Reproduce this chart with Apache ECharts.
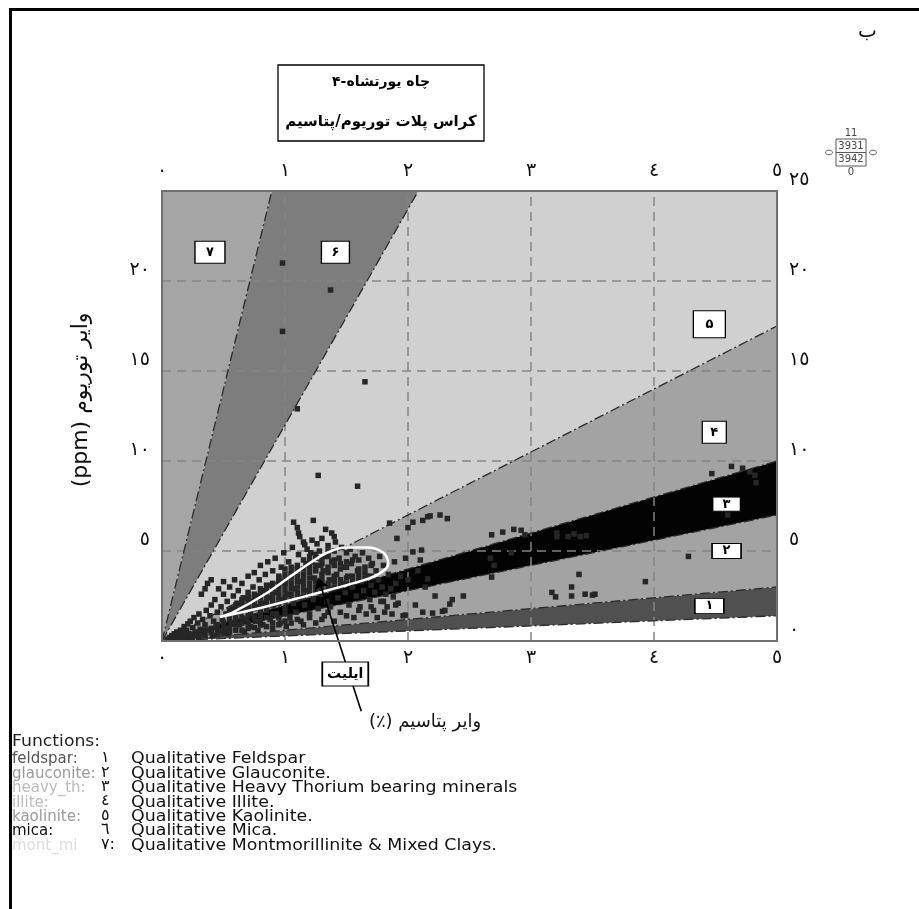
<!DOCTYPE html>
<html><head><meta charset="utf-8">
<script src="https://cdn.jsdelivr.net/npm/echarts@6/dist/echarts.min.js"></script>
<style>html,body{margin:0;padding:0;background:#fff}#c{width:919px;height:909px}</style>
</head><body><div id="c"></div>
<script>
// ---------- data ----------
const xTickLabels = ['٠','١','٢','٣','٤','٥'];
const yTickLabels = {0:'٠',5:'٥',10:'١٠',15:'١٥',20:'٢٠',25:'٢٥'};
const zoneNames = ['feldspar','glauconite','heavy_th','illite','kaolinite','mica','mont_mi'];
const zoneSlopes = [0.28, 0.6, 1.4, 2.0, 3.5, 12, 28];   // lower boundary Th/K of each zone
const zoneLabels = ['۱','۲','۳','۴','۵','۶','۷'];
const zoneLabelPos = [[4.45,1.94],[4.59,5.0],[4.59,7.6],[4.49,11.6],[4.45,17.6],[1.41,21.6],[0.39,21.6]];
const gridK = [1,2,3,4];
const gridTh = [5,10,15,20];

const cloudLow = [[0.04,0.1],[0.06,0.2],[0.08,0.15],[0.08,0.3],[0.1,0.1],[0.1,0.25],[0.1,0.4],[0.12,0.5],[0.13,0.2],[0.14,0.35],[0.15,0.6],[0.16,0.1],[0.17,0.45],[0.18,0.8],[0.19,0.25],[0.2,0.6],[0.21,0.95],[0.22,0.4],[0.23,1.1],[0.24,0.15],[0.25,0.75],[0.26,1.3],[0.27,0.5],[0.28,0.3],[0.29,1.0],[0.3,1.5],[0.31,0.65],[0.32,2.6],[0.33,1.2],[0.34,0.4],[0.35,2.9],[0.35,0.9],[0.36,1.7],[0.37,3.2],[0.38,0.6],[0.39,1.4],[0.4,2.0],[0.4,3.4],[0.41,0.3],[0.42,1.1],[0.43,2.3],[0.44,0.8],[0.45,1.6],[0.46,2.9],[0.47,0.5],[0.48,1.9],[0.49,1.2],[0.5,2.6],[0.5,3.3],[0.51,0.7],[0.52,1.5],[0.53,2.2],[0.54,0.4],[0.55,3.0],[0.56,1.0],[0.57,1.8],[0.58,2.5],[0.59,3.4],[0.6,0.6],[0.6,1.3],[0.61,2.1],[0.62,2.8],[0.63,0.9],[0.64,1.6],[0.65,3.2],[0.66,2.4],[0.67,0.5],[0.68,1.9],[0.69,1.2],[0.7,2.7],[0.7,3.6]];
const cloudMid = [[0.72,0.8],[0.72,1.6],[0.73,2.2],[0.74,3.0],[0.75,3.8],[0.76,1.1],[0.77,2.5],[0.78,0.6],[0.78,1.9],[0.79,3.4],[0.8,4.2],[0.8,1.4],[0.81,2.8],[0.82,0.9],[0.83,2.1],[0.84,3.7],[0.85,1.7],[0.86,4.4],[0.87,2.4],[0.88,1.2],[0.89,3.1],[0.9,0.7],[0.9,3.9],[0.91,2.0],[0.92,4.6],[0.93,1.5],[0.94,2.7],[0.95,3.5],[0.96,1.0],[0.97,4.1],[0.98,2.3],[0.99,4.9],[1.0,1.8],[1.0,3.2],[1.01,0.8],[1.02,2.6],[1.03,4.4],[1.04,1.3],[1.05,3.7],[1.06,5.2],[1.07,2.1],[1.07,6.6],[1.08,2.9],[1.09,1.6],[1.1,4.0],[1.1,6.3],[1.11,6.0],[1.11,4.8],[1.12,2.4],[1.12,5.8],[1.13,1.1],[1.14,3.3],[1.15,5.5],[1.16,5.35],[1.16,2.0],[1.17,4.3],[1.18,5.1],[1.19,2.8],[1.2,1.5],[1.2,3.8],[1.21,4.9],[1.22,5.6],[1.23,6.7],[1.23,2.3],[1.24,3.5],[1.25,4.6],[1.26,5.4],[1.27,1.8],[1.27,3.0],[1.28,5.0],[1.29,4.2],[1.3,2.6],[1.3,5.7]];
const cloudHigh = [[1.31,3.9],[1.32,1.4],[1.33,6.2],[1.33,4.7],[1.34,2.2],[1.35,5.3],[1.36,3.4],[1.37,1.9],[1.38,6.0],[1.38,4.4],[1.39,2.9],[1.4,5.8],[1.4,5.0],[1.41,5.5],[1.42,3.7],[1.43,2.4],[1.44,4.6],[1.45,1.6],[1.46,5.2],[1.47,3.2],[1.48,4.1],[1.49,2.7],[1.5,4.9],[1.51,3.6],[1.52,2.0],[1.53,5.1],[1.54,4.3],[1.55,3.0],[1.56,1.3],[1.57,4.7],[1.58,2.5],[1.59,3.9],[1.6,4.5],[1.61,1.9],[1.62,3.3],[1.63,4.9],[1.64,2.8],[1.65,4.1],[1.66,1.5],[1.67,3.6],[1.68,4.6],[1.69,2.3],[1.7,3.1],[1.71,4.3],[1.72,1.7],[1.73,2.7],[1.74,3.9],[1.75,1.3],[1.76,3.4],[1.77,4.7],[1.78,2.2],[1.79,3.0],[1.8,4.2],[1.81,1.6],[1.82,2.6],[1.83,1.9],[1.84,3.7],[1.85,6.55],[1.86,2.9],[1.87,1.5],[1.88,2.45],[1.89,4.4],[1.9,3.2],[1.91,5.7],[1.92,2.1],[1.94,3.6],[1.96,1.4],[1.98,4.6],[1.98,1.44],[2.0,3.4],[2.0,6.3]];
const cloudCore = [[0.55,1.5],[0.55,1.7],[0.6,1.6],[0.6,1.8],[0.6,2.0],[0.65,1.7],[0.65,1.9],[0.65,2.1],[0.65,2.3],[0.7,1.75],[0.7,1.95],[0.7,2.2],[0.7,2.4],[0.75,1.8],[0.75,2.0],[0.75,2.3],[0.75,2.6],[0.8,1.9],[0.8,2.1],[0.8,2.4],[0.8,2.6],[0.8,2.9],[0.85,1.95],[0.85,2.2],[0.85,2.5],[0.85,2.8],[0.85,3.1],[0.9,2.0],[0.9,2.3],[0.9,2.6],[0.9,2.9],[0.9,3.2],[0.95,2.1],[0.95,2.4],[0.95,2.7],[0.95,3.0],[0.95,3.3],[0.95,3.6],[1.0,2.2],[1.0,2.5],[1.0,2.8],[1.0,3.1],[1.0,3.4],[1.0,3.7],[1.0,4.0],[1.05,2.3],[1.05,2.6],[1.05,2.9],[1.05,3.2],[1.05,3.5],[1.05,3.8],[1.05,4.1],[1.1,2.4],[1.1,2.7],[1.1,3.0],[1.1,3.3],[1.1,3.6],[1.1,3.9],[1.1,4.2],[1.15,2.5],[1.15,2.8],[1.15,3.1],[1.15,3.4],[1.15,3.7],[1.15,4.0],[1.15,4.5],[1.2,2.6],[1.2,2.9],[1.2,3.2],[1.2,3.5],[1.2,4.1],[1.2,4.4],[1.2,4.7],[1.25,2.7],[1.25,3.0],[1.25,3.3],[1.25,3.9],[1.25,4.2],[1.25,4.8],[1.3,2.8],[1.3,3.1],[1.3,3.4],[1.3,3.7],[1.3,4.3],[1.3,4.6],[1.35,2.9],[1.35,3.2],[1.35,3.8],[1.35,4.1],[1.35,4.7],[1.35,5.0],[1.4,3.0],[1.4,3.3],[1.4,3.6],[1.4,4.2],[1.4,4.5],[1.45,3.1],[1.45,3.4],[1.45,4.0],[1.45,4.3],[1.5,3.2],[1.5,3.5],[1.5,4.1],[1.5,4.4],[1.55,3.3],[1.55,3.6],[1.55,4.5],[1.6,3.4],[1.6,3.7],[1.6,4.0],[1.65,3.5],[1.65,3.8],[1.7,3.6],[1.7,4.2]];
const cloudBase = [[0.2,0.15],[0.25,0.3],[0.3,0.2],[0.3,0.45],[0.35,0.3],[0.35,0.6],[0.4,0.45],[0.4,0.7],[0.45,0.35],[0.45,0.6],[0.45,0.9],[0.5,0.45],[0.5,0.8],[0.5,1.05],[0.55,0.5],[0.55,0.75],[0.55,1.2],[0.6,0.9],[0.6,1.1],[0.65,0.6],[0.65,1.0],[0.65,1.3],[0.7,0.7],[0.7,1.0],[0.7,1.4],[0.75,0.75],[0.75,1.3],[0.8,0.9],[0.8,1.1],[0.8,1.6],[0.85,0.8],[0.85,1.3],[0.9,1.0],[0.9,1.5],[0.95,0.9],[0.95,1.3],[1.0,1.1],[1.0,1.5],[1.05,1.0],[1.1,1.2],[1.15,0.9],[1.2,1.3],[1.25,1.0],[1.3,1.2],[1.35,1.6],[1.4,1.1],[1.5,1.4],[1.6,1.7],[1.7,1.9],[1.8,2.2],[1.9,2.0]];
const scatterRight = [[2.04,6.6],[2.04,4.95],[2.06,2.0],[2.08,3.9],[2.1,4.5],[2.11,5.05],[2.12,6.7],[2.12,1.6],[2.14,3.0],[2.16,6.9],[2.16,3.45],[2.18,6.95],[2.2,1.55],[2.22,2.5],[2.26,7.0],[2.28,1.65],[2.3,1.7],[2.32,6.8],[2.34,2.05],[2.36,2.3],[2.45,2.5],[2.67,4.6],[2.68,5.9],[2.68,3.55],[2.7,4.2],[2.77,6.05],[2.84,4.9],[2.86,6.2],[2.92,6.15],[2.95,5.9],[3.17,2.7],[3.2,2.45],[3.21,6.0],[3.21,5.8],[3.3,5.8],[3.33,3.0],[3.33,2.5],[3.35,5.95],[3.39,3.7],[3.4,5.8],[3.44,2.6],[3.45,5.85],[3.52,2.6],[3.5,2.55],[3.93,3.3],[4.28,4.7],[4.47,9.3],[4.63,9.7],[4.72,9.6],[4.78,9.4],[4.82,9.2],[4.83,8.8],[4.6,7.0]];
const outliers = [[0.98,21.0],[1.37,19.5],[0.98,17.2],[1.65,14.4],[1.1,12.9],[1.27,9.2],[1.59,8.6]];

const illiteEnvelope = [[0.47,1.33],[0.8,1.83],[1.2,2.55],[1.55,3.2],[1.75,3.67],[1.84,4.3],[1.8,4.9],[1.67,5.2],[1.5,5.2],[1.34,4.9],[1.12,3.95],[0.85,2.65],[0.58,1.6],[0.47,1.33]];
const illiteArrow = [[1.62,-3.9],[1.27,3.5]];
const illiteLabel = 'ایلیت';
const illiteLabelPos = [1.49,-1.83];

const RLE = '\u202B', PDF = '\u202C';
const titleLine1 = 'چاه یورتشاه-۴';
const titleLine2 = 'کراس پلات توریوم/پتاسیم';
const xName = 'وایر پتاسیم (٪)';
const yName = 'وایر توریوم (ppm)';
const legendHead = 'Functions:';
const legendKeys = ['feldspar:','glauconite:','heavy_th:','illite:','kaolinite:','mica:','mont_mi'];
const legendNums = ['١','٢','٣','٤','٥','٦','٧:'];
const legendDesc = ['Qualitative Feldspar','Qualitative Glauconite.','Qualitative Heavy Thorium bearing minerals','Qualitative Illite.','Qualitative Kaolinite.','Qualitative Mica.','Qualitative Montmorillinite & Mixed Clays.'];

// ---------- styles ----------
const zoneColors = ['#505050','#a3a3a3','#030303','#a3a3a3','#d0d0d0','#7d7d7d','#a5a5a5'];
const zoneBoxSizes = [[29,15],[29,15],[28,14],[24,22],[32,27],[28,22],[30,22]];
const legendKeyColors = ['#555','#999','#bbb','#bbb','#999','#111','#ddd'];
const AR = 'DejaVu Sans';
const rtl = s => RLE + s + PDF;

const XMAX = 5, YMAX = 25;
function edge(s){ if(!isFinite(s)) return [0,YMAX]; return s*XMAX<=YMAX ? [XMAX,XMAX*s] : [YMAX/s,YMAX]; }
function zonePoly(i){
  const a = zoneSlopes[i], b = i+1<zoneSlopes.length ? zoneSlopes[i+1] : Infinity;
  const pa = edge(a), pb = edge(b);
  const pts = [[0,0], pa];
  if (pa[0]===XMAX && pb[1]===YMAX && pb[0]!==XMAX) pts.push([XMAX,YMAX]);
  pts.push(pb);
  return pts;
}

const chart = echarts.init(document.getElementById('c'));
function scatterSeries(data){
  return {type:'scatter', data, symbol:'rect', symbolSize:5.5, itemStyle:{color:'#262626', opacity:1}, z:5, silent:true};
}

const legendFont = '15px "DejaVu Sans"';
const legendGraphics = [];
legendGraphics.push({type:'text', x:12, y:735, scaleX:1.15, style:{text:legendHead, fill:'#222', font:legendFont}});
legendKeys.forEach((k,i)=>{
  const y = 752 + i*14.4;
  legendGraphics.push({type:'text', x:12, y:y, style:{text:k, fill:legendKeyColors[i], font:legendFont}});
  legendGraphics.push({type:'text', x:101, y:y-2, style:{text:legendNums[i], fill:'#111', font:'16px "DejaVu Sans"'}});
  legendGraphics.push({type:'text', x:131, y:y, scaleX:1.16, style:{text:legendDesc[i], fill:'#111', font:legendFont}});
});

const axisCommon = {type:'value', z:10, axisTick:{show:false}, splitLine:{show:false},
  axisLine:{show:true, onZero:false, lineStyle:{color:'#6f6f6f', width:2}}};
const option = {
  animation:false,
  backgroundColor:'#fff',
  grid:{left:162, top:191, width:615, height:450, containLabel:false, outerBoundsMode:'none'},
  xAxis:[
    Object.assign({}, axisCommon, {min:0, max:XMAX, interval:1, position:'bottom',
     axisLabel:{formatter:v=>xTickLabels[v], fontSize:19, color:'#111', margin:8, fontFamily:AR}}),
    Object.assign({}, axisCommon, {min:0, max:XMAX, interval:1, position:'top',
     axisLabel:{formatter:v=>xTickLabels[v], fontSize:19, color:'#111', margin:10, fontFamily:AR}})
  ],
  yAxis:[
    Object.assign({}, axisCommon, {min:0, max:YMAX, interval:5, position:'left',
     axisLabel:{formatter:v=>(v===0||v===YMAX)?'':yTickLabels[v], fontSize:19, color:'#111', margin:12, fontFamily:AR, verticalAlign:'bottom', lineHeight:22}}),
    Object.assign({}, axisCommon, {min:0, max:YMAX, interval:5, position:'right',
     axisLabel:{formatter:v=>yTickLabels[v], fontSize:19, color:'#111', margin:12, fontFamily:AR, verticalAlign:'bottom', lineHeight:22}})
  ],
  series:[
    {type:'custom', z:1, silent:true, data:zoneNames.map((n,i)=>[i,0]),
     renderItem:(p,api)=>{const i=p.dataIndex; return {type:'polygon', shape:{points:zonePoly(i).map(q=>api.coord(q))}, style:{fill:zoneColors[i]}};}},
    {type:'custom', z:2, silent:true, data:gridK.map(k=>[k,0]),
     renderItem:(p,api)=>{const k=gridK[p.dataIndex]; const a=api.coord([k,0]), b=api.coord([k,YMAX]);
       return {type:'line', shape:{x1:a[0],y1:a[1],x2:b[0],y2:b[1]}, style:{stroke:'#858585', lineWidth:1.5, lineDash:[9,6]}};}},
    {type:'custom', z:2, silent:true, data:gridTh.map(t=>[0,t]),
     renderItem:(p,api)=>{const t=gridTh[p.dataIndex]; const a=api.coord([0,t]), b=api.coord([XMAX,t]);
       return {type:'line', shape:{x1:a[0],y1:a[1],x2:b[0],y2:b[1]}, style:{stroke:'#858585', lineWidth:1.5, lineDash:[9,6]}};}},
    {type:'custom', z:3, silent:true, data:zoneSlopes.map((s,i)=>[i,0]),
     renderItem:(p,api)=>{const s=zoneSlopes[p.dataIndex]; const a=api.coord([0,0]), b=api.coord(edge(s));
       return {type:'line', shape:{x1:a[0],y1:a[1],x2:b[0],y2:b[1]}, style:{stroke:'#2a2a2a', lineWidth:1.3, lineDash:[10,3,2,3]}};}},
    scatterSeries(cloudBase), scatterSeries(cloudLow), scatterSeries(cloudMid), scatterSeries(cloudCore),
    scatterSeries(cloudHigh), scatterSeries(scatterRight), scatterSeries(outliers),
    {type:'line', data:illiteEnvelope, smooth:0.35, showSymbol:false, symbol:'none', z:6, silent:true,
     lineStyle:{color:'#fff', width:2.5}},
    {type:'lines', coordinateSystem:'cartesian2d', z:7, clip:false, silent:true,
     data:[{coords:illiteArrow}], symbol:['none','arrow'], symbolSize:11,
     lineStyle:{color:'#000', width:1.6, opacity:1}},
    {type:'scatter', data:[illiteLabelPos], symbol:'rect', symbolSize:[46,24], clip:false, z:8, silent:true,
     itemStyle:{color:'#fff', borderColor:'#000', borderWidth:1.3, opacity:1},
     label:{show:true, position:'inside', formatter:()=>illiteLabel, color:'#000', fontSize:14, fontWeight:'bold', fontFamily:AR}},
    {type:'scatter', data:zoneLabelPos, symbol:'rect', symbolSize:(v,p)=>zoneBoxSizes[p.dataIndex], clip:false, z:8, silent:true,
     itemStyle:{color:'#fff', borderColor:'#000', borderWidth:1.2, opacity:1},
     label:{show:true, position:'inside', formatter:p=>zoneLabels[p.dataIndex], color:'#000', fontSize:13, fontWeight:'bold', fontFamily:AR}}
  ],
  graphic:[
    {type:'line', shape:{x1:10.5,y1:8,x2:10.5,y2:909}, style:{stroke:'#000', lineWidth:3}},
    {type:'line', shape:{x1:9,y1:9.5,x2:919,y2:9.5}, style:{stroke:'#000', lineWidth:3}},
    {type:'text', x:858, y:22, style:{text:'ب', fill:'#111', font:'20px "DejaVu Sans"'}},
    {type:'rect', shape:{x:278, y:65, width:206, height:76}, style:{fill:'#fff', stroke:'#000', lineWidth:1.3}},
    {type:'text', x:381, y:82, style:{text:rtl(titleLine1), font:'bold 14px "DejaVu Sans"', fill:'#000', align:'center', verticalAlign:'middle'}},
    {type:'text', x:381, y:122, style:{text:rtl(titleLine2), font:'bold 15px "DejaVu Sans"', fill:'#000', align:'center', verticalAlign:'middle'}},
    {type:'text', x:851, y:133, style:{text:'11', fill:'#444', font:'10px "DejaVu Sans"', align:'center', verticalAlign:'middle'}},
    {type:'rect', shape:{x:836, y:139, width:30, height:27}, style:{fill:'none', stroke:'#555', lineWidth:1}},
    {type:'line', shape:{x1:836,y1:152.5,x2:866,y2:152.5}, style:{stroke:'#555', lineWidth:1}},
    {type:'text', x:851, y:146, style:{text:'3931', fill:'#444', font:'10px "DejaVu Sans"', align:'center', verticalAlign:'middle'}},
    {type:'text', x:851, y:159, style:{text:'3942', fill:'#444', font:'10px "DejaVu Sans"', align:'center', verticalAlign:'middle'}},
    {type:'text', x:851, y:172, style:{text:'0', fill:'#444', font:'10px "DejaVu Sans"', align:'center', verticalAlign:'middle'}},
    {type:'ellipse', shape:{cx:829, cy:152.5, rx:3.5, ry:2.3}, style:{fill:'none', stroke:'#555', lineWidth:1}},
    {type:'ellipse', shape:{cx:873, cy:152.5, rx:3.5, ry:2.3}, style:{fill:'none', stroke:'#555', lineWidth:1}},
    {type:'text', x:425, y:722, style:{text:rtl(xName), font:'18px "DejaVu Sans"', fill:'#111', align:'center', verticalAlign:'middle'}},
    {type:'text', x:81, y:400, rotation:Math.PI/2, style:{text:rtl(yName), fill:'#111', font:'22px "DejaVu Sans"', align:'center', verticalAlign:'middle'}}
  ].concat(legendGraphics)
};
chart.setOption(option);
</script>
</body></html>
